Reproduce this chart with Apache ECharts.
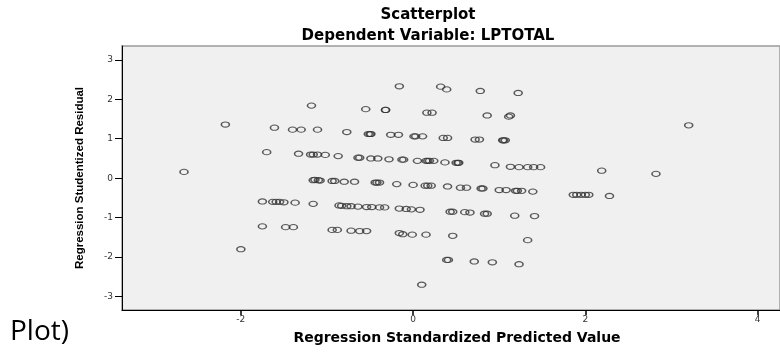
<!DOCTYPE html>
<html>
<head>
<meta charset="utf-8">
<title>Scatterplot</title>
<script src="https://cdn.jsdelivr.net/npm/echarts@6/dist/echarts.min.js"></script>
<style>
	html,
	body {
		margin: 0;
		padding: 0;
		background: #fff;
	}
	#chart {
		width: 780px;
		height: 352px;
	}
</style>
</head>
<body>
<div id="chart"></div>
<script>
	// x: Regression Standardized Predicted Value
	var predicted = [
		-0.16, 0.32, 0.39, 0.78, 1.22, -1.18, -0.55, -0.32, -0.32, 0.16, 0.22, 0.86, 1.11, 1.13, -2.18, 3.2,
		-1.61, -1.4, -1.3, -1.11, -0.77, -0.52, -0.49, -0.5, -0.26, -0.17, 0.01, 0.03, 0.11, 0.35, 0.4, 0.72, 0.77, 1.04, 1.05, 1.07,
		-1.7, -1.33, -1.19, -1.16, -1.11, -1.02, -0.87, -0.64, -0.62, -0.49, -0.41, -0.28, -0.13, -0.11, 0.05, 0.15, 0.17, 0.19, 0.24,
		0.37, 0.5, 0.53, 0.52, 0.95, 1.13, 1.23, 1.33, 1.4, 1.48, 2.19, 2.82, -2.66,
		-1.16, -1.14, -1.1, -1.08, -0.94, -0.91, -0.8, -0.68, -0.44, -0.42, -0.39, -0.19, 0.0, 0.14, 0.17, 0.21, 0.4, 0.55, 0.62,
		0.79, 0.81, 1.0, 1.08, 1.19, 1.21, 1.26, 1.39,
		1.86, 1.9, 1.95, 2.0, 2.04, 2.28,
		-1.75, -1.63, -1.59, -1.55, -1.5, -1.37, -1.16, -0.86, -0.83, -0.77, -0.72, -0.64, -0.54, -0.48, -0.39, -0.33,
		-0.16, -0.08, -0.02, 0.08, 0.43, 0.46, 0.6, 0.66, 0.83, 0.86, 1.18, 1.41,
		-1.75, -1.48, -1.39, -0.94, -0.88, -0.72, -0.62, -0.54, -0.16, -0.12, -0.01, 0.15, 0.46, 1.33, -2.0,
		0.39, 0.41, 0.71, 0.92, 1.23, 0.1,
	];
	// y: Regression Studentized Residual
	var residual = [
		2.33, 2.32, 2.25, 2.21, 2.16, 1.84, 1.75, 1.73, 1.73, 1.66, 1.66, 1.59, 1.56, 1.59, 1.36, 1.34,
		1.28, 1.23, 1.23, 1.23, 1.17, 1.12, 1.12, 1.12, 1.1, 1.1, 1.06, 1.06, 1.06, 1.02, 1.02, 0.98, 0.98, 0.96, 0.96, 0.96,
		0.66, 0.62, 0.6, 0.6, 0.6, 0.59, 0.56, 0.52, 0.52, 0.5, 0.5, 0.48, 0.47, 0.47, 0.44, 0.44, 0.44, 0.44, 0.44,
		0.4, 0.39, 0.39, 0.39, 0.33, 0.29, 0.28, 0.28, 0.28, 0.28, 0.19, 0.11, 0.16,
		-0.05, -0.04, -0.05, -0.06, -0.07, -0.07, -0.09, -0.09, -0.11, -0.11, -0.11, -0.15, -0.17, -0.19, -0.19, -0.19, -0.21, -0.24, -0.24,
		-0.26, -0.26, -0.3, -0.3, -0.32, -0.32, -0.32, -0.34,
		-0.42, -0.42, -0.42, -0.42, -0.42, -0.45,
		-0.59, -0.6, -0.6, -0.6, -0.61, -0.62, -0.65, -0.69, -0.7, -0.71, -0.71, -0.72, -0.73, -0.73, -0.74, -0.74,
		-0.77, -0.78, -0.79, -0.8, -0.85, -0.85, -0.86, -0.87, -0.9, -0.9, -0.95, -0.96,
		-1.22, -1.24, -1.24, -1.31, -1.31, -1.33, -1.34, -1.34, -1.39, -1.42, -1.43, -1.43, -1.46, -1.57, -1.8,
		-2.07, -2.07, -2.11, -2.13, -2.18, -2.7,
	];
	var xTicks = [-2, 0, 2, 4];
	var yTicks = [-3, -2, -1, 0, 1, 2, 3];

	var points = predicted.map(function (v, i) {
		return [v, residual[i]];
	});

	var labelFont = "'DejaVu Sans', sans-serif";
	var myChart = echarts.init(document.getElementById("chart"));
	var option = {
		animation: false,
		grid: {
			left: 122,
			top: 46,
			right: 0,
			bottom: 42,
			show: true,
			backgroundColor: "#f0f0f0",
			borderColor: "#9a9a9a",
			borderWidth: 1.5,
		},
		graphic: [
			{
				type: "text",
				x: 428,
				y: 15,
				style: {
					text: "Scatterplot",
					fill: "#000",
					font: "bold 15px 'DejaVu Sans', sans-serif",
					textAlign: "center",
					textVerticalAlign: "middle",
				},
			},
			{
				type: "text",
				x: 428,
				y: 36,
				style: {
					text: "Dependent Variable: LPTOTAL",
					fill: "#000",
					font: "bold 15px 'DejaVu Sans', sans-serif",
					textAlign: "center",
					textVerticalAlign: "middle",
				},
			},
			{
				type: "text",
				x: 10,
				y: 332,
				style: {
					text: "Plot)",
					fill: "#000",
					font: "28px 'Open Sans', sans-serif",
					textAlign: "left",
					textVerticalAlign: "middle",
				},
			},
		],
		xAxis: {
			type: "value",
			min: -3.38,
			max: 4.26,
			name: "Regression Standardized Predicted Value",
			nameLocation: "middle",
			nameGap: 21,
			nameTextStyle: {
				color: "#000",
				fontWeight: "bold",
				fontSize: 14,
				fontFamily: labelFont,
				padding: [0, 0, 0, 12],
			},
			axisLine: {
				onZero: false,
				lineStyle: { color: "#000", width: 1 },
			},
			axisTick: {
				show: true,
				customValues: xTicks,
				length: 5,
				lineStyle: { color: "#000", width: 1.5 },
			},
			axisLabel: {
				customValues: xTicks,
				color: "#333",
				fontSize: 9,
				margin: 5,
				fontFamily: labelFont,
			},
			splitLine: { show: false },
		},
		yAxis: {
			type: "value",
			min: -3.34,
			max: 3.35,
			name: "Regression Studentized Residual",
			nameLocation: "middle",
			nameRotate: 90,
			nameGap: 36,
			nameTextStyle: {
				color: "#000",
				fontWeight: "bold",
				fontSize: 11.5,
				fontFamily: "'Liberation Sans Narrow', 'Liberation Sans', sans-serif",
			},
			axisLine: {
				show: true,
				onZero: false,
				lineStyle: { color: "#000", width: 1 },
			},
			axisTick: {
				show: true,
				customValues: yTicks,
				length: 7,
				lineStyle: { color: "#000", width: 1 },
			},
			axisLabel: {
				customValues: yTicks,
				color: "#333",
				fontSize: 9,
				margin: 9,
				fontFamily: labelFont,
			},
			splitLine: { show: false },
		},
		series: [
			{
				type: "scatter",
				data: points,
				// open oval markers like the SPSS output
				symbol: "path://M10,5A5,5,0,1,1,0,5A5,5,0,1,1,10,5Z",
				symbolSize: [8, 5.2],
				itemStyle: {
					color: "rgba(0,0,0,0)",
					borderColor: "#333",
					borderWidth: 1.3,
				},
			},
		],
	};
	myChart.setOption(option);
</script>
</body>
</html>
